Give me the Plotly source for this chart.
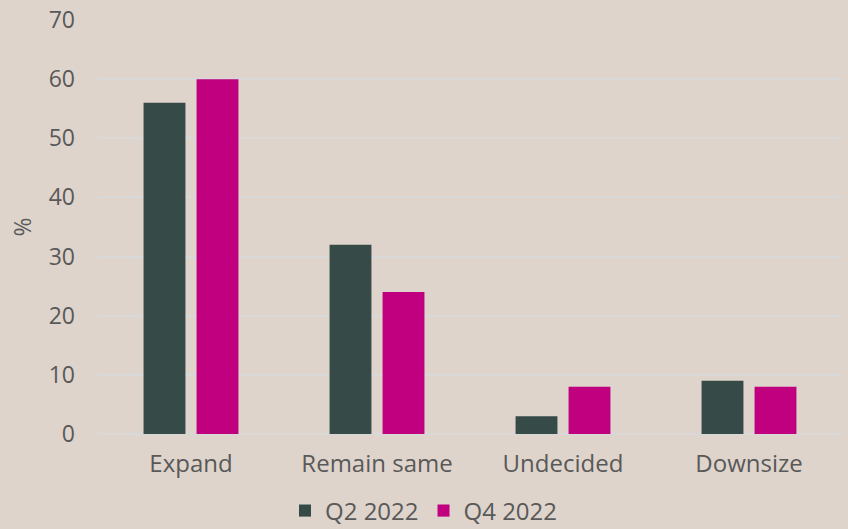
import plotly.graph_objects as go

categories = ["Expand", "Remain same", "Undecided", "Downsize"]
q2_2022 = [56, 32, 3, 9]
q4_2022 = [60, 24, 8, 8]
y_ticks = [0, 10, 20, 30, 40, 50, 60, 70]

bg = "#ded4cb"
font_color = "#595959"
font_family = "Open Sans, Lato, sans-serif"

fig = go.Figure()
fig.add_trace(go.Bar(name="Q2 2022", x=categories, y=q2_2022, marker_color="#364a48", marker_line_width=0))
fig.add_trace(go.Bar(name="Q4 2022", x=categories, y=q4_2022, marker_color="#c0007f", marker_line_width=0))

fig.update_layout(
    width=848, height=529,
    paper_bgcolor=bg, plot_bgcolor=bg,
    margin=dict(l=98, r=6, t=20, b=95, autoexpand=False),
    barmode="group", bargap=0.43, bargroupgap=0.21,
    font=dict(family=font_family, color=font_color, size=23),
    showlegend=True,
    legend=dict(orientation="h", xref="container", x=0.5, xanchor="center",
                yref="paper", y=-0.186, yanchor="middle",
                font=dict(size=24, color=font_color), itemwidth=30, bgcolor="rgba(0,0,0,0)",
                tracegroupgap=0),
)
fig.update_xaxes(showgrid=False, showline=False, ticks="", tickfont=dict(size=24, color=font_color),
                 ticklabelstandoff=13, automargin=False)
fig.update_yaxes(range=[0, 70], tickvals=y_ticks, showgrid=True, gridcolor="#d8d8d8", gridwidth=1.5,
                 zeroline=True, zerolinecolor="#d8d8d8", zerolinewidth=1.5,
                 title=dict(text="%", font=dict(size=23, color=font_color), standoff=10),
                 tickfont=dict(size=23, color=font_color), ticks="", ticklabelstandoff=22,
                 automargin=False)

fig.write_html("out.html")
